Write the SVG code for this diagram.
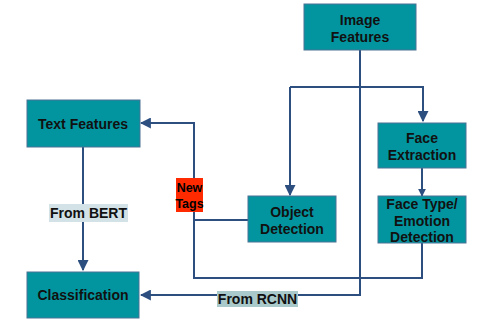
<svg xmlns="http://www.w3.org/2000/svg" width="480" height="324" viewBox="0 0 480 324">
  <style>
    .box { fill: #03959f; stroke: #4a7394; stroke-width: 1; }
    .lbl { font-family: "Liberation Sans", Arial, sans-serif; font-weight: bold; font-size: 14px; fill: #111; text-anchor: middle; }
    .edge { fill: none; stroke: #2c4f80; stroke-width: 2; }
    .tag { font-family: "Liberation Sans", Arial, sans-serif; font-weight: bold; font-size: 12.5px; fill: #000; text-anchor: middle; }
  </style>
  <defs>
    <marker id="arrow" viewBox="0 0 10 10" refX="9" refY="5" markerWidth="5.5" markerHeight="5.5" orient="auto" markerUnits="strokeWidth">
      <path d="M0,0 L10,5 L0,10 z" fill="#2c4f80"/>
    </marker>
    <marker id="arrowSmall" viewBox="0 0 10 10" refX="9" refY="5" markerWidth="4" markerHeight="4" orient="auto" markerUnits="strokeWidth">
      <path d="M0,0 L10,5 L0,10 z" fill="#2c4f80"/>
    </marker>
  </defs>
  <rect width="480" height="324" fill="#ffffff"/>

  <g id="connectors">
    <!-- Image Features fan-out -->
    <path class="edge" d="M360,50 V295 H141" marker-end="url(#arrow)"/>
    <path class="edge" d="M290,87 H423 V121" marker-end="url(#arrow)"/>
    <path class="edge" d="M290,87 V195" marker-end="url(#arrow)"/>
    <!-- Face Extraction to Face Type -->
    <path class="edge" d="M422,168 V196" stroke-width="1.5" marker-end="url(#arrowSmall)"/>
    <!-- Face Type and Object Detection feed back to Text Features -->
    <path class="edge" d="M422,243 V278 H194 V123 H141" marker-end="url(#arrow)"/>
    <path class="edge" d="M248,220 H194"/>
    <!-- Text Features to Classification -->
    <path class="edge" d="M83,147 V270" marker-end="url(#arrow)"/>
  </g>

  <g id="image-features">
    <rect class="box" x="304" y="4" width="112" height="46"/>
    <text class="lbl" x="360" y="25">Image</text>
    <text class="lbl" x="360" y="42">Features</text>
  </g>

  <g id="text-features">
    <rect class="box" x="27" y="100" width="113" height="47"/>
    <text class="lbl" x="83" y="129">Text Features</text>
  </g>

  <g id="face-extraction">
    <rect class="box" x="378" y="123" width="88" height="45"/>
    <text class="lbl" x="422" y="143">Face</text>
    <text class="lbl" x="422" y="160">Extraction</text>
  </g>

  <g id="object-detection">
    <rect class="box" x="248" y="196" width="88" height="46"/>
    <text class="lbl" x="292" y="217">Object</text>
    <text class="lbl" x="292" y="234">Detection</text>
  </g>

  <g id="face-type">
    <rect class="box" x="378" y="196" width="88" height="47"/>
    <text class="lbl" x="422" y="209">Face Type/</text>
    <text class="lbl" x="422" y="226">Emotion</text>
    <text class="lbl" x="422" y="242">Detection</text>
  </g>

  <g id="classification">
    <rect class="box" x="27" y="272" width="112" height="46"/>
    <text class="lbl" x="83" y="300">Classification</text>
  </g>

  <g id="new-tags">
    <rect x="176" y="178" width="27" height="34" fill="#ff2a00"/>
    <text class="tag" x="189.5" y="192">New</text>
    <text class="tag" x="189.5" y="208">Tags</text>
  </g>

  <g id="from-bert">
    <rect x="49" y="204" width="79" height="18" fill="#d3e2e6"/>
    <text class="lbl" x="88.5" y="218">From BERT</text>
  </g>

  <g id="from-rcnn">
    <rect x="217" y="291" width="81" height="16" fill="#a9c9cb"/>
    <text class="lbl" x="257.5" y="304">From RCNN</text>
  </g>
</svg>
